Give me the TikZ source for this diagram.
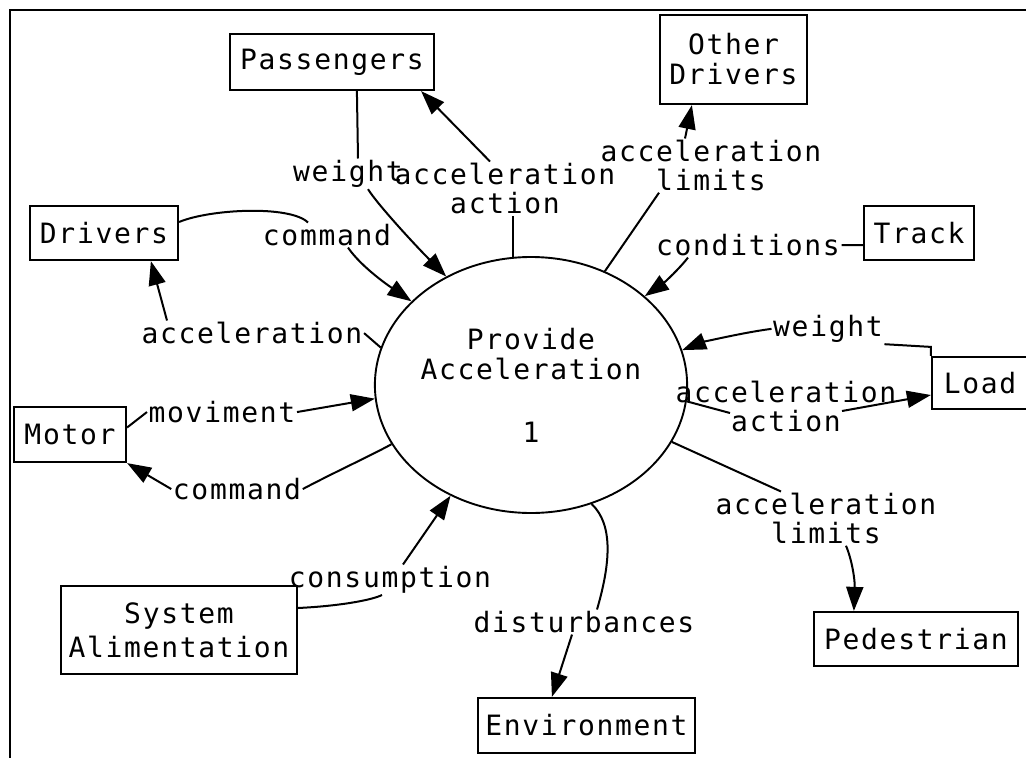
\documentclass[tikz,border=0pt]{standalone}
\usepackage{fontspec}
\usetikzlibrary{arrows.meta,shapes.geometric}
\newfontfamily\dfont[LetterSpace=6]{DejaVu Sans Mono}
\newcommand{\lfont}{\dfont\fontsize{28}{29}\selectfont}
\newcommand{\bfontx}{\dfont\fontsize{28}{30}\selectfont}
\begin{document}
\begin{tikzpicture}[x=1pt,y=-1pt,
  box/.style={draw, line width=2.2pt, font=\bfontx, inner sep=0pt, align=center},
  lab/.style={font=\lfont, inner sep=1.5pt, align=center, anchor=north},
  proc/.style={draw, ellipse, line width=1.9pt, minimum width=282pt, minimum height=256pt, inner sep=0pt, font=\bfontx, align=center},
  flow/.style={line width=2pt},
  arr/.style={flow, -{Triangle[length=24pt,width=17pt]}},
  frame/.style={line width=2.4pt}]
\useasboundingbox (0,0) rectangle (1026,758);
\clip (0,0) rectangle (1026,758);
\fill[white] (0,0) rectangle (1026,758);
\draw[frame] (10,770) -- (10,10) -- (1040,10);

% boxes
\node[box, minimum width=204pt, minimum height=56pt] (pass) at (332,62) {Passengers};
\node[box, minimum width=147pt, minimum height=89pt] (odr) at (733.5,59.5) {Other\\Drivers};
\node[box, minimum width=110pt, minimum height=54pt] (trk) at (919,233) {Track};
\node[box, minimum width=148pt, minimum height=54pt] (drv) at (104,233) {Drivers};
\node[box, minimum width=96pt, minimum height=52pt] (ld) at (980,383) {Load};
\node[box, minimum width=112pt, minimum height=55pt] (mot) at (70,434.5) {Motor};
\node[box, minimum width=236pt, minimum height=88pt] (sa) at (179,630) {System\\[4pt]Alimentation};
\node[box, minimum width=217pt, minimum height=55pt] (env) at (586.5,725.5) {Environment};
\node[box, minimum width=204pt, minimum height=54pt] (ped) at (916,639) {Pedestrian};
\node[proc] (p) at (531,385) {Provide\\Acceleration\\[33pt]1};

% labels
\node[lab] (L1) at (348,158.5) {weight};
\node[lab] (L2) at (505,161.5) {acceleration\\action};
\node[lab] (L3) at (327,222.5) {command};
\node[lab] (L4) at (252,320.5) {acceleration};
\node[lab] (L5) at (222,399.5) {moviment};
\node[lab] (L6) at (237,476.5) {command};
\node[lab] (L7) at (390,564.5) {consumption};
\node[lab] (L8) at (584,609.5) {disturbances};
\node[lab] (L9) at (826,491.5) {acceleration\\limits};
\node[lab] (L10) at (786,379.5) {acceleration\\action};
\node[lab] (L11) at (828,313.5) {weight};
\node[lab] (L12) at (748,232.5) {conditions};
\node[lab] (L13) at (711,138.5) {acceleration\\limits};

% connectors
\draw[flow] ([xshift=128pt]pass.south west) -- ([xshift=10pt]L1.north);
\draw[arr] ([xshift=20pt]L1.south) .. controls (378,205) and (415,245) .. (p.128);

\draw[flow] (p.98) -- (p.98 |- L2.south);
\draw[arr] ([xshift=-15pt]L2.north) -- ([xshift=-14pt]pass.south east);

\draw[flow] ([yshift=11pt]drv.east) .. controls (210,209) and (290,205) .. ([xshift=-19pt]L3.north);
\draw[arr] ([xshift=21pt]L3.south) .. controls (362,268) and (392,288) .. (p.145);

\draw[flow] (p.166) -- (L4.east);
\draw[arr] ([xshift=-85pt]L4.north) -- ([xshift=122pt]drv.south west);

\draw[flow] ([yshift=7pt]mot.east) -- (L5.west);
\draw[arr] (L5.east) -- (p.185);

\draw[flow] (p.203) .. controls (372,455) and (335,472) .. (L6.east);
\draw[arr] (L6.west) -- (mot.south east);

\draw[flow] ([yshift=22pt]sa.east) .. controls (340,606) and (372,600) .. ([xshift=-8pt]L7.south);
\draw[arr] ([xshift=13pt]L7.north) -- (p.234);

\draw[flow] (p.297) .. controls (614,525) and (610,565) .. ([xshift=13pt]L8.north);
\draw[arr] ([xshift=-12pt]L8.south) -- ([xshift=75pt]env.north west);

\draw[flow] (p.338) -- ([xshift=-45pt]L9.north);
\draw[arr] ([xshift=20pt]L9.south) .. controls (852,560) and (855,580) .. ([xshift=41pt]ped.north west);

\draw[flow] (p.354) -- ([xshift=-56pt,yshift=-33.5pt]L10.north);
\draw[arr] ([xshift=56pt,yshift=-31.5pt]L10.north) -- ([yshift=-12pt]ld.west);

\draw[flow] (ld.north west) -- ++(0,-9) -- (L11.south east);
\draw[arr] (L11.west) .. controls (740,333) and (700,343) .. (p.13);

\draw[flow] ([yshift=-12pt]trk.west) -- (L12.east);
\draw[arr] ([xshift=-60pt]L12.south) .. controls (680,268) and (665,282) .. (p.38);

\draw[flow] (p.57) -- ([xshift=-52pt]L13.south);
\draw[arr] ([xshift=-26pt]L13.north) -- ([xshift=33pt]odr.south west);
\end{tikzpicture}
\end{document}
